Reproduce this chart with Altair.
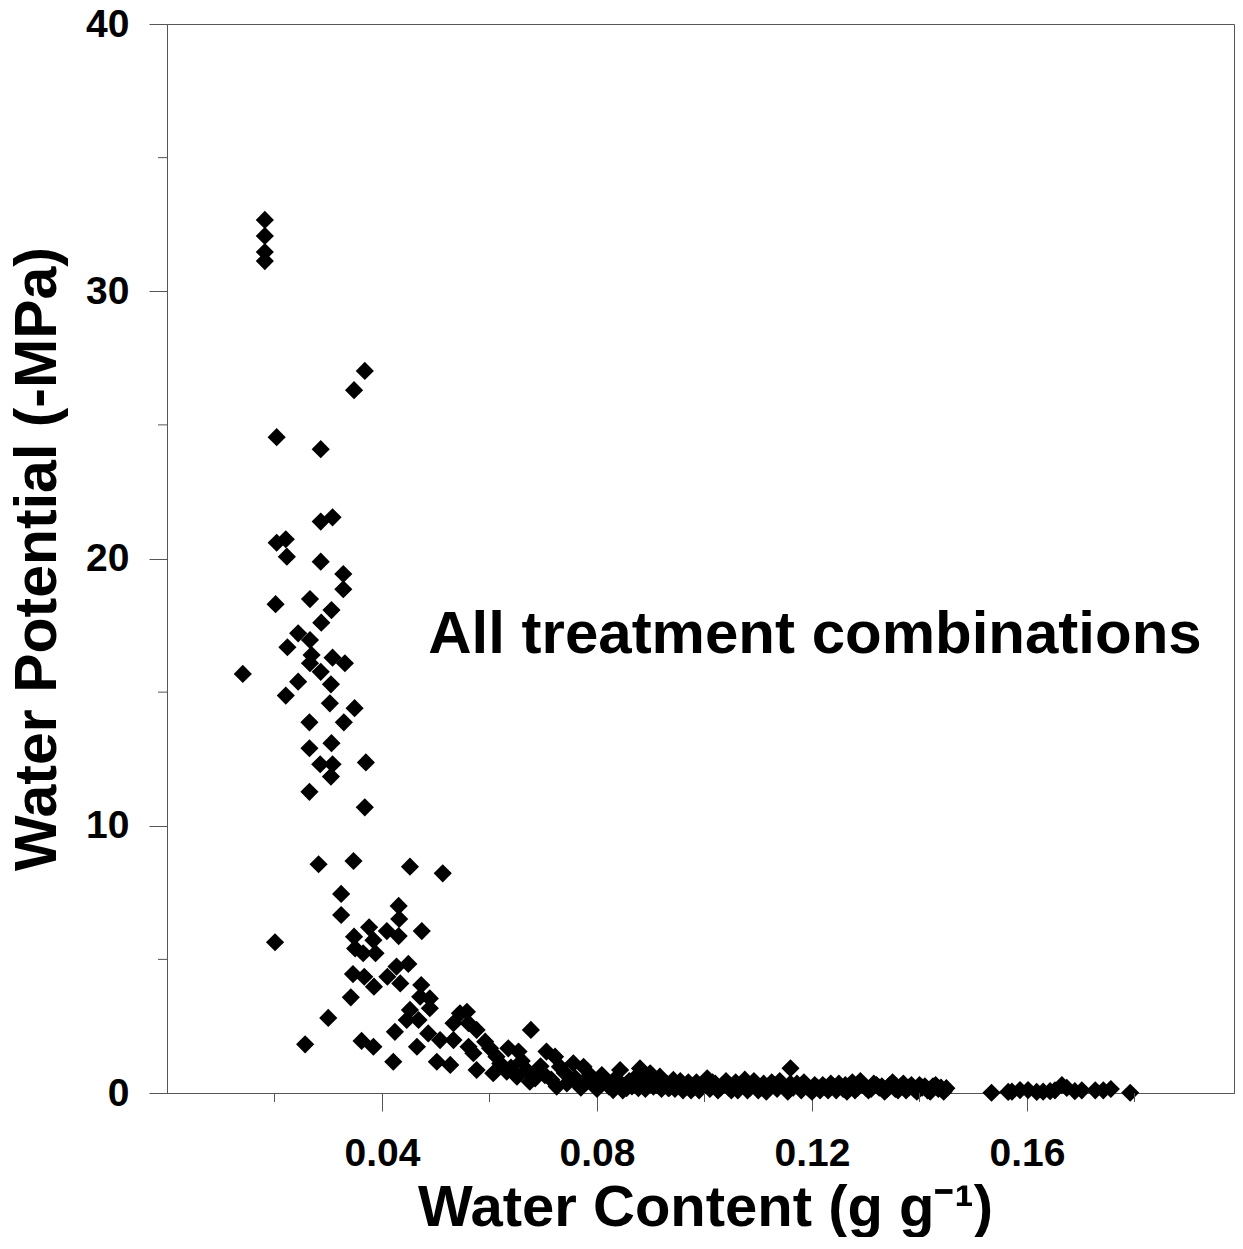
import altair as alt
import pandas as pd

# Water content (g g-1) and water potential (-MPa)
water_content = [
    0.0182, 0.0182, 0.0182, 0.0182, 0.0348, 0.0368,
    0.0204, 0.0286, 0.0286, 0.0308, 0.0204, 0.0221, 0.0223, 0.0286, 0.0328, 0.0328,
    0.0202, 0.0266, 0.0306, 0.0287, 0.0244, 0.0266, 0.0224, 0.0269, 0.0266, 0.0308,
    0.0331, 0.0286, 0.0141, 0.0244, 0.0305, 0.0221, 0.0303, 0.0349, 0.0265, 0.0329,
    0.0265, 0.0306, 0.0285, 0.0308, 0.0305, 0.0370, 0.0265, 0.0368,
    0.0282, 0.0347, 0.0452, 0.0513, 0.0324, 0.0431, 0.0324, 0.0432, 0.0376, 0.0474,
    0.0409, 0.0348, 0.0431, 0.0201, 0.0384, 0.0350, 0.0365, 0.0388, 0.0449, 0.0427,
    0.0346, 0.0367, 0.0410, 0.0434, 0.0385, 0.0342, 0.0473, 0.0471, 0.0489, 0.0452,
    0.0489, 0.0300, 0.0446, 0.0468, 0.0424, 0.0545, 0.0533, 0.0486, 0.0508, 0.0561,
    0.0257, 0.0362, 0.0384, 0.0465, 0.0533, 0.0561, 0.0421, 0.0502, 0.0527, 0.0570,
    0.0576, 0.0576,
    0.0558, 0.0592, 0.0601, 0.0613, 0.0635, 0.0654, 0.0677, 0.0607, 0.0632, 0.0669,
    0.0675, 0.0651, 0.0706, 0.0722, 0.0731, 0.0756, 0.0775, 0.0703, 0.0725, 0.0744,
    0.0765, 0.0787, 0.0809, 0.0843, 0.0880, 0.0899, 0.0830, 0.0855, 0.0877, 0.0917,
    0.0942, 0.0818, 0.0905, 0.0933,
    0.0620, 0.0640, 0.0660, 0.0685, 0.0695, 0.0715, 0.0740,
    0.0760, 0.0770, 0.0780, 0.0795, 0.0800, 0.0812, 0.0822, 0.0835, 0.0840, 0.0848,
    0.0860, 0.0865, 0.0872, 0.0885, 0.0890, 0.0895, 0.0910, 0.0920,
    0.0930, 0.0945, 0.0955, 0.0965, 0.0975, 0.0985, 0.0995, 0.1005, 0.1010, 0.1020,
    0.1030, 0.1040, 0.1050, 0.1058, 0.1065, 0.1075, 0.1085, 0.1092, 0.1100, 0.1110,
    0.1118, 0.1125, 0.1135, 0.1145, 0.1155, 0.1165, 0.1172, 0.1180, 0.1190, 0.1200,
    0.1210, 0.1220, 0.1230, 0.1240, 0.1250, 0.1258, 0.1265, 0.1275, 0.1285, 0.1295,
    0.1305, 0.1315, 0.1325, 0.1335, 0.1345, 0.1355, 0.1365, 0.1375, 0.1385, 0.1395,
    0.1405, 0.1415, 0.1425, 0.1435, 0.1445, 0.1450,
    0.0935, 0.0950, 0.0960, 0.0970, 0.0980, 0.0990, 0.1000, 0.1015, 0.1025, 0.1035,
    0.1045, 0.1055, 0.1062, 0.1070, 0.1080, 0.1088, 0.1096, 0.1105, 0.1115, 0.1130,
    0.1140, 0.1150, 0.1160, 0.1177, 0.1185, 0.1195, 0.1205, 0.1215, 0.1225, 0.1235,
    0.1245, 0.1262, 0.1270, 0.1280, 0.1290, 0.1300, 0.1310, 0.1320, 0.1330, 0.1340,
    0.1350, 0.1360, 0.1370, 0.1380, 0.1390, 0.1400, 0.1410, 0.1420, 0.1430, 0.1440,
    0.1160,
    0.1534, 0.1565, 0.1572, 0.1587, 0.1602, 0.1618, 0.1630, 0.1643, 0.1652, 0.1665,
    0.1674, 0.1689, 0.1702, 0.1727, 0.1742, 0.1756, 0.1792,
]
water_potential = [
    32.67, 32.07, 31.47, 31.13, 26.30, 27.02,
    24.54, 24.09, 21.38, 21.54, 20.59, 20.72, 20.07, 19.88, 19.42, 18.85,
    18.29, 18.48, 18.07, 17.60, 17.20, 16.95, 16.68, 16.39, 16.08, 16.29,
    16.08, 15.76, 15.68, 15.39, 15.29, 14.87, 14.58, 14.40, 13.87, 13.87,
    12.90, 13.09, 12.30, 12.30, 11.84, 12.37, 11.27, 10.69,
    8.56, 8.68, 8.47, 8.22, 7.45, 7.00, 6.66, 6.51, 6.20, 6.06,
    6.06, 5.85, 5.87, 5.64, 5.72, 5.41, 5.23, 5.23, 4.83, 4.73,
    4.45, 4.35, 4.35, 4.10, 3.98, 3.58, 4.04, 3.60, 3.54, 3.11,
    3.17, 2.81, 2.73, 2.73, 2.29, 2.98, 2.61, 2.23, 1.98, 2.61,
    1.82, 1.95, 1.73, 1.73, 1.98, 1.73, 1.17, 1.17, 1.05, 1.49,
    0.86, 2.36,
    3.04, 1.92, 1.67, 1.36, 1.67, 1.55, 2.36, 0.74, 0.80, 0.86,
    0.42, 0.61, 1.55, 1.36, 0.98, 1.11, 0.98, 0.67, 0.24, 0.36,
    0.36, 0.67, 0.67, 0.86, 0.92, 0.74, 0.11, 0.18, 0.18, 0.61,
    0.49, 0.42, 0.24, 0.18,
    1.10, 0.95, 1.20, 0.55, 1.00, 0.50, 0.75,
    0.55, 0.20, 0.40, 0.30, 0.15, 0.55, 0.25, 0.55, 0.30, 0.10,
    0.45, 0.25, 0.60, 0.40, 0.15, 0.50, 0.30, 0.15,
    0.35, 0.15, 0.45, 0.25, 0.10, 0.40, 0.30, 0.55, 0.15, 0.35,
    0.20, 0.45, 0.10, 0.40, 0.25, 0.50, 0.20, 0.45, 0.10, 0.35,
    0.20, 0.40, 0.15, 0.30, 0.05, 0.20, 0.35, 0.10, 0.25, 0.05,
    0.20, 0.30, 0.10, 0.25, 0.35, 0.15, 0.05, 0.40, 0.20, 0.30,
    0.10, 0.35, 0.20, 0.05, 0.30, 0.15, 0.25, 0.10, 0.30, 0.05,
    0.20, 0.10, 0.25, 0.15, 0.05, 0.18,
    0.20, 0.30, 0.10, 0.40, 0.20, 0.10, 0.30, 0.40, 0.10, 0.30,
    0.20, 0.30, 0.10, 0.35, 0.10, 0.30, 0.25, 0.20, 0.05, 0.30,
    0.45, 0.20, 0.35, 0.20, 0.40, 0.15, 0.30, 0.10, 0.20, 0.35,
    0.10, 0.30, 0.20, 0.10, 0.45, 0.20, 0.15, 0.30, 0.25, 0.15,
    0.40, 0.10, 0.35, 0.20, 0.15, 0.30, 0.25, 0.05, 0.30, 0.20,
    0.925,
    0.01, 0.04, 0.05, 0.11, 0.11, 0.04, 0.05, 0.07, 0.10, 0.30,
    0.19, 0.07, 0.10, 0.10, 0.10, 0.15, 0.01,
]

x_major = [0.04, 0.08, 0.12, 0.16]
x_minor = [0.02, 0.06, 0.10, 0.14, 0.18]
y_major = [0, 10, 20, 30, 40]
y_minor = [5, 15, 25, 35]

annotation = ["All treatment combinations"]
annotation_x = [0.0486]
annotation_y = [16.48]

FONT = "Liberation Sans, Arial, Helvetica, sans-serif"
AXIS_GRAY = "#555555"

# plot area: 5375 px per g/g on x, page width limits the right edge
W, H = 1067, 1069
X_MAX = W / 5375.0

df = pd.DataFrame({"wc": water_content, "wp": water_potential})

xscale = alt.Scale(domain=[0, X_MAX], nice=False, zero=False)
yscale = alt.Scale(domain=[0, 40], nice=False, zero=False)

points = alt.Chart(df).mark_point(
    shape="diamond", filled=True, color="black", opacity=1, size=330, strokeWidth=0
).encode(
    x=alt.X("wc:Q", scale=xscale, title="Water Content (g g\u207b\u00b9)",
            axis=alt.Axis(values=x_major, format=".2f", tickSize=18, labelPadding=23,
                          titlePadding=6, titleFontSize=58, titleX=538,
                          titleAlign="center", grid=False)),
    y=alt.Y("wp:Q", scale=yscale, title="Water Potential (-MPa)",
            axis=alt.Axis(values=y_major, format="d", tickSize=18, labelPadding=20,
                          titlePadding=18, titleFontSize=59, grid=False)),
)

xminor_df = pd.DataFrame({"v": x_minor})
xminor = alt.Chart(xminor_df).mark_rule(color=AXIS_GRAY, strokeWidth=1).encode(
    x=alt.X("v:Q", scale=xscale),
    y=alt.value(H),
    y2=alt.value(H + 9),
)

yminor_df = pd.DataFrame({"v": y_minor})
yminor = alt.Chart(yminor_df).mark_rule(color=AXIS_GRAY, strokeWidth=1).encode(
    y=alt.Y("v:Q", scale=yscale),
    x=alt.value(0),
    x2=alt.value(-9),
)

ann_df = pd.DataFrame({"t": annotation, "x": annotation_x, "y": annotation_y})
ann = alt.Chart(ann_df).mark_text(
    align="left", baseline="alphabetic", font=FONT, fontWeight="bold",
    fontSize=60, color="black"
).encode(
    x=alt.X("x:Q", scale=xscale),
    y=alt.Y("y:Q", scale=yscale),
    text="t:N",
)

chart = alt.layer(points, xminor, yminor, ann).properties(
    width=W,
    height=H,
    autosize=alt.AutoSizeParams(type="none"),
    padding={"left": 159, "top": 16, "right": 1, "bottom": 144},
).configure_view(
    stroke=AXIS_GRAY, strokeWidth=1
).configure_axis(
    domainColor=AXIS_GRAY,
    tickColor=AXIS_GRAY,
    labelColor="black",
    labelFont=FONT,
    labelFontSize=39,
    labelFontWeight="bold",
    titleFont=FONT,
    titleFontWeight="bold",
    titleColor="black",
    labelOverlap=False,
)

chart.save("out.html", embed_options={"renderer": "svg", "actions": False})
